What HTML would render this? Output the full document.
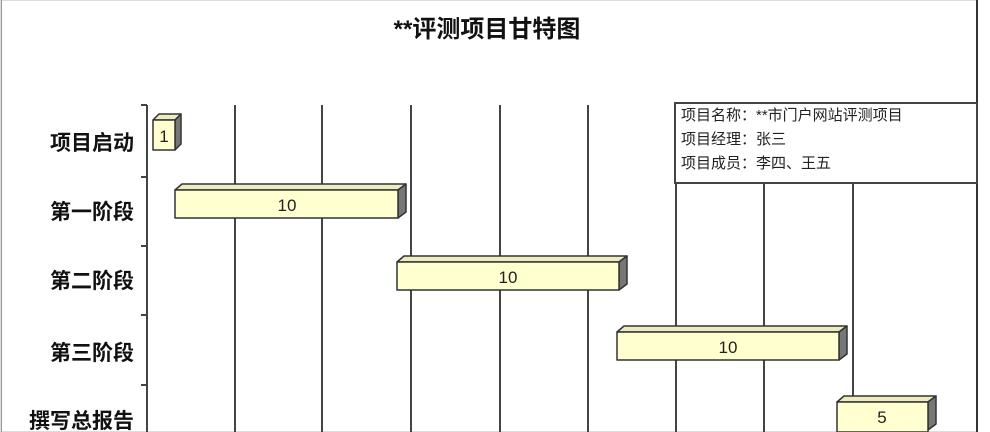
<!DOCTYPE html>
<html><head><meta charset="utf-8"><style>
html,body{margin:0;padding:0;background:#fff;}
svg{display:block;}
text{font-family:"Liberation Sans","Noto Sans CJK SC",sans-serif;}
.lab{font-size:21px;font-weight:bold;fill:#111;text-anchor:end;}
.num{font-size:17px;fill:#222;text-anchor:middle;}
.info{font-size:15px;fill:#222;}
</style></head><body>
<svg width="990" height="432" viewBox="0 0 990 432">
<rect x="1" y="0" width="976" height="432" fill="none" stroke="#bbb" stroke-width="1"/>
<line x1="977" y1="0" x2="977" y2="432" stroke="#333" stroke-width="2"/>
<line x1="1.5" y1="0" x2="1.5" y2="432" stroke="#999" stroke-width="1"/>
<text x="487" y="37" font-size="24" font-weight="bold" text-anchor="middle" fill="#111">**评测项目甘特图</text>
<line x1="147" y1="105" x2="147" y2="432" stroke="#444" stroke-width="2"/>
<g stroke="#444" stroke-width="2">
<line x1="141" y1="105" x2="147" y2="105"/><line x1="141" y1="177" x2="147" y2="177"/>
<line x1="141" y1="246" x2="147" y2="246"/><line x1="141" y1="315" x2="147" y2="315"/>
<line x1="141" y1="385" x2="147" y2="385"/>
</g>
<g stroke="#444" stroke-width="2">
<line x1="235" y1="105" x2="235" y2="432"/><line x1="322" y1="105" x2="322" y2="432"/>
<line x1="411" y1="105" x2="411" y2="432"/><line x1="500" y1="105" x2="500" y2="432"/>
<line x1="588" y1="105" x2="588" y2="432"/><line x1="676" y1="183" x2="676" y2="432"/>
<line x1="764" y1="183" x2="764" y2="432"/><line x1="853" y1="183" x2="853" y2="432"/>
</g>
<rect x="675" y="103" width="302" height="80" fill="#fff" stroke="#444" stroke-width="2"/>
<text class="info" x="681" y="120">项目名称：**市门户网站评测项目</text>
<text class="info" x="681" y="144">项目经理：张三</text>
<text class="info" x="681" y="168">项目成员：李四、王五</text>
<text class="lab" x="134" y="150">项目启动</text>
<text class="lab" x="134" y="219">第一阶段</text>
<text class="lab" x="134" y="288">第二阶段</text>
<text class="lab" x="134" y="360">第三阶段</text>
<text class="lab" x="134" y="428">撰写总报告</text>
<g stroke="#333" stroke-width="1.5" stroke-linejoin="round">
<polygon points="153,120 159,114 181,114 175,120" fill="#ececc0"/>
<polygon points="175,120 181,114 181,144 175,150" fill="#777"/>
<rect x="153" y="120" width="22" height="30" fill="#ffffd0"/>
<polygon points="175,190 182,184 406,184 398,190" fill="#ececc0"/>
<polygon points="398,190 406,184 406,212 398,218" fill="#777"/>
<rect x="175" y="190" width="223" height="28" fill="#ffffd0"/>
<polygon points="397,262 404,256 627,256 619,262" fill="#ececc0"/>
<polygon points="619,262 627,256 627,284 619,290" fill="#777"/>
<rect x="397" y="262" width="222" height="28" fill="#ffffd0"/>
<polygon points="617,332 624,326 847,326 839,332" fill="#ececc0"/>
<polygon points="839,332 847,326 847,354 839,360" fill="#777"/>
<rect x="617" y="332" width="222" height="28" fill="#ffffd0"/>
<polygon points="837,402 844,396 936,396 928,402" fill="#ececc0"/>
<polygon points="928,402 936,396 936,424 928,430" fill="#777"/>
<rect x="837" y="402" width="91" height="30" fill="#ffffd0"/>
</g>
<text class="num" x="164" y="142">1</text>
<text class="num" x="287" y="211">10</text>
<text class="num" x="508" y="283">10</text>
<text class="num" x="728" y="353">10</text>
<text class="num" x="882" y="423">5</text>
</svg>
</body></html>
